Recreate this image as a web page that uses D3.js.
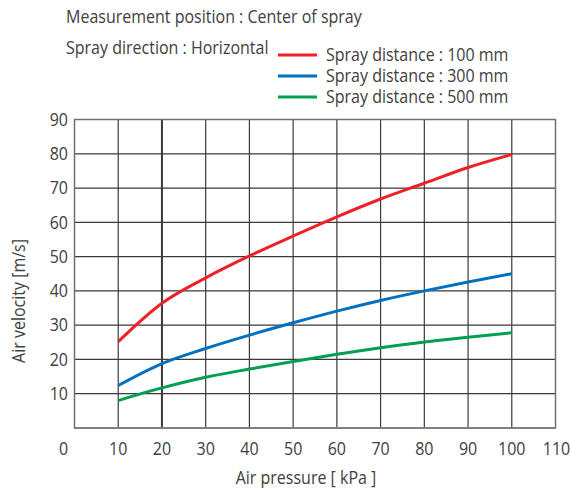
<!DOCTYPE html>
<html>
<head>
<meta charset="utf-8">
<script src="https://cdn.jsdelivr.net/npm/d3@7"></script>
<style>
  body { margin: 0; background: #fff; }
  text { font-family: "Open Sans", "Noto Sans", sans-serif; fill: #404040; }
</style>
</head>
<body>
<svg id="chart" width="571" height="490"></svg>
<script>
// Air pressure [kPa] sample points
const pressure = [10, 20, 30, 40, 50, 60, 70, 80, 90, 100];

// Air velocity [m/s]
const dist100 = [25.2, 36.4, 43.8, 50.2, 56.0, 61.6, 66.8, 71.4, 76.0, 79.8];
const dist300 = [12.4, 18.8, 23.2, 27.1, 30.7, 34.1, 37.2, 40.0, 42.6, 45.0];
const dist500 = [8.0, 11.7, 14.8, 17.2, 19.4, 21.5, 23.4, 25.1, 26.5, 27.8];

const xTicks = [0, 10, 20, 30, 40, 50, 60, 70, 80, 90, 100, 110];
const yTicks = [10, 20, 30, 40, 50, 60, 70, 80, 90];

const seriesNames = ["Spray distance : 100 mm", "Spray distance : 300 mm", "Spray distance : 500 mm"];
const seriesColors = ["#ee2128", "#0070c0", "#00a050"];

const FONT = 17.5;

const svg = d3.select("#chart");

const x = d3.scaleLinear().domain([0, 110]).range([74.5, 555.5]);
const y = d3.scaleLinear().domain([0, 90]).range([428, 119.5]);

// Squeeze text a bit so the taller glyphs keep the narrow widths of the original
function squeeze(sel) {
    sel.each(function () {
        const w = this.getComputedTextLength();
        d3.select(this)
            .attr("textLength", w * 16 / FONT)
            .attr("lengthAdjust", "spacingAndGlyphs");
    });
}

// Grid lines
const grid = svg.append("g").attr("class", "grid");
grid.selectAll("line.v")
    .data(xTicks.filter(d => d > 0 && d < 110))
    .join("line")
    .attr("x1", d => x(d)).attr("x2", d => x(d))
    .attr("y1", y(90)).attr("y2", y(0))
    .attr("stroke", "#3a3a3a")
    .attr("stroke-width", d => d === 20 ? 2 : 1.2);

grid.selectAll("line.h")
    .data(yTicks.filter(d => d < 90))
    .join("line")
    .attr("x1", x(0)).attr("x2", x(110))
    .attr("y1", d => y(d)).attr("y2", d => y(d))
    .attr("stroke", "#3a3a3a")
    .attr("stroke-width", 1.2);

// Frame
svg.append("rect")
    .attr("x", x(0)).attr("y", y(90))
    .attr("width", x(110) - x(0)).attr("height", y(0) - y(90))
    .attr("fill", "none")
    .attr("stroke", "#707070")
    .attr("stroke-width", 1.5);

svg.append("line")
    .attr("x1", x(0)).attr("x2", x(110))
    .attr("y1", y(0)).attr("y2", y(0))
    .attr("stroke", "#808080")
    .attr("stroke-width", 2);

// Curves
const line = d3.line()
    .x((d, i) => x(pressure[i]))
    .y(d => y(d))
    .curve(d3.curveMonotoneX);

[dist100, dist300, dist500].forEach((vals, i) => {
    svg.append("path")
        .attr("d", line(vals))
        .attr("fill", "none")
        .attr("stroke", seriesColors[i])
        .attr("stroke-width", 3);
});

// Axis labels
svg.selectAll("text.ytick")
    .data(yTicks)
    .join("text")
    .attr("class", "ytick")
    .attr("x", 68)
    .attr("y", d => y(d) + 6.3)
    .attr("text-anchor", "end")
    .attr("font-size", FONT)
    .text(d => d)
    .call(squeeze);

svg.selectAll("text.xtick")
    .data(xTicks)
    .join("text")
    .attr("class", "xtick")
    .attr("x", d => d === 0 ? x(d) - 11 : (d === 110 ? x(d) + 1 : x(d)))
    .attr("y", 455)
    .attr("text-anchor", "middle")
    .attr("font-size", FONT)
    .text(d => d)
    .call(squeeze);

svg.append("text")
    .attr("x", 306)
    .attr("y", 484)
    .attr("text-anchor", "middle")
    .attr("font-size", FONT)
    .text("Air pressure [ kPa ]")
    .call(squeeze);

svg.append("text")
    .attr("transform", "translate(25,301) rotate(-90)")
    .attr("text-anchor", "middle")
    .attr("font-size", FONT)
    .text("Air velocity [m/s]")
    .call(squeeze);

// Notes
svg.append("text")
    .attr("x", 66).attr("y", 23)
    .attr("font-size", FONT)
    .text("Measurement position : Center of spray")
    .call(squeeze);

svg.append("text")
    .attr("x", 66).attr("y", 54)
    .attr("font-size", FONT)
    .text("Spray direction : Horizontal")
    .call(squeeze);

// Legend
const legend = svg.append("g");
seriesNames.forEach((name, i) => {
    const ly = 55 + i * 21;
    legend.append("line")
        .attr("x1", 278).attr("x2", 317)
        .attr("y1", ly).attr("y2", ly)
        .attr("stroke", seriesColors[i])
        .attr("stroke-width", 3);
    legend.append("text")
        .attr("x", 326).attr("y", ly + 6.3)
        .attr("font-size", FONT)
        .text(name)
        .call(squeeze);
});
</script>
</body>
</html>
